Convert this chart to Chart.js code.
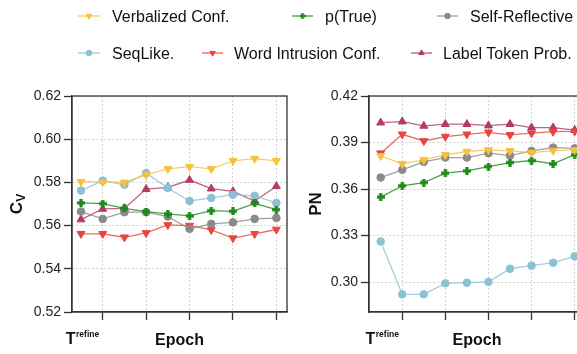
<!DOCTYPE html>
<html><head><meta charset="utf-8">
<script src="https://cdn.jsdelivr.net/npm/chart.js@4.4.1/dist/chart.umd.min.js"></script>
<style>
html,body{margin:0;padding:0;background:#fff;overflow:hidden;width:577px;height:354px;}
#wrap{position:relative;width:577px;height:354px;overflow:hidden;}
canvas.chart{position:absolute;top:0;}
#cvL{left:0;}
#cvR{left:295px;}
.legtxt{position:absolute;font-family:'Liberation Sans',Arial,sans-serif;font-size:16px;line-height:19px;color:#111;white-space:nowrap;}
.legmk{position:absolute;}
</style></head><body>
<div id="wrap">
<canvas id="cvL" class="chart" width="295" height="354"></canvas>
<canvas id="cvR" class="chart" width="298" height="354"></canvas>
<div id="legend"></div>
</div>
<script>
// ---------------- data ----------------
const epochs = [0, 1, 2, 3, 4, 5, 6, 7, 8, 9];
const seriesNames = ['Verbalized Conf.', 'p(True)', 'Self-Reflective', 'SeqLike.', 'Word Intrusion Conf.', 'Label Token Prob.'];

const cvVerbalized     = [0.5803, 0.5802, 0.5800, 0.5835, 0.5863, 0.5873, 0.5863, 0.5900, 0.5910, 0.5900];
const cvPTrue          = [0.5705, 0.5702, 0.5680, 0.5665, 0.5654, 0.5645, 0.5669, 0.5666, 0.5703, 0.5674];
const cvSelfReflective = [0.5665, 0.5631, 0.5662, 0.5662, 0.5642, 0.5585, 0.5608, 0.5615, 0.5631, 0.5635];
const cvSeqLike        = [0.5762, 0.5808, 0.5789, 0.5843, 0.5774, 0.5714, 0.5728, 0.5743, 0.5738, 0.5705];
const cvWordIntrusion  = [0.5562, 0.5562, 0.5546, 0.5566, 0.5603, 0.5600, 0.5580, 0.5542, 0.5562, 0.5582];
const cvLabelToken     = [0.5628, 0.5677, 0.5680, 0.5769, 0.5777, 0.5811, 0.5771, 0.5758, 0.5714, 0.5782];

const pnVerbalized     = [0.3814, 0.3762, 0.3788, 0.3820, 0.3842, 0.3852, 0.3846, 0.3835, 0.3848, 0.3852];
const pnPTrue          = [0.3548, 0.3621, 0.3642, 0.3702, 0.3717, 0.3745, 0.3771, 0.3784, 0.3762, 0.3822];
const pnSelfReflective = [0.3674, 0.3724, 0.3775, 0.3803, 0.3803, 0.3831, 0.3816, 0.3846, 0.3867, 0.3862];
const pnSeqLike        = [0.3262, 0.2921, 0.2921, 0.2992, 0.2996, 0.3001, 0.3086, 0.3106, 0.3125, 0.3166];
const pnWordIntrusion  = [0.3831, 0.3953, 0.3910, 0.3938, 0.3953, 0.3966, 0.3949, 0.3960, 0.3970, 0.3972];
const pnLabelToken     = [0.4028, 0.4035, 0.4007, 0.4018, 0.4018, 0.4009, 0.4018, 0.3996, 0.3996, 0.3980];

const cvTicks = [0.52, 0.54, 0.56, 0.58, 0.60, 0.62];
const pnTicks = [0.30, 0.33, 0.36, 0.39, 0.42];
const xTicks  = [1, 3, 5, 7, 9];

// ---------------- styles ----------------
const FONT = "'Liberation Sans', Arial, Helvetica, sans-serif";
const colors = ['#f5c13f', '#1b8a1b', '#8a8a8a', '#8dc0d3', '#e6463d', '#b23c63'];
function rgba(hex, a) {
  const n = parseInt(hex.slice(1), 16);
  return `rgba(${(n >> 16) & 255},${(n >> 8) & 255},${n & 255},${a})`;
}
function plusMarker(color, size, arm) {
  const c = document.createElement('canvas');
  c.width = size; c.height = size;
  const g = c.getContext('2d');
  g.fillStyle = color;
  const o = (size - arm) / 2;
  g.fillRect(o, 0, arm, size);
  g.fillRect(0, o, size, arm);
  return c;
}
const plusBig = plusMarker(colors[1], 8, 3.2);
const plusSmall = plusMarker(colors[1], 6, 2.4);
const pStyles = ['triangle', plusBig, 'circle', 'circle', 'triangle', 'triangle'];
const pStylesLeg = ['triangle', plusSmall, 'circle', 'circle', 'triangle', 'triangle'];
const pRot = [180, 0, 0, 0, 180, 0];
const pRad = [4.6, 4, 3.8, 3.8, 4.6, 4.6];

function makeDatasets(valueLists) {
  return seriesNames.map((name, i) => ({
    label: name,
    data: epochs.map((e, j) => ({ x: e, y: valueLists[i][j] })),
    borderColor: rgba(colors[i], 0.8),
    backgroundColor: colors[i],
    pointBackgroundColor: colors[i],
    pointBorderColor: colors[i],
    pointStyle: pStyles[i],
    pointRotation: pRot[i],
    pointRadius: pRad[i],
    pointBorderWidth: 1,
    borderWidth: 1.3,
    tension: 0,
    clip: false
  }));
}

const boxPlugin = {
  id: 'box',
  beforeDatasetsDraw(chart) {
    const { ctx, chartArea: a } = chart;
    ctx.save();
    ctx.strokeStyle = '#333';
    ctx.lineWidth = 1.3;
    ctx.strokeRect(a.left, a.top, a.right - a.left, a.bottom - a.top);
    ctx.restore();
  }
};

const trefinePlugin = {
  id: 'trefine',
  afterDraw(chart) {
    const ctx = chart.ctx;
    const x = chart.scales.x.getPixelForValue(0);
    ctx.save();
    ctx.fillStyle = '#111';
    ctx.textBaseline = 'alphabetic';
    ctx.textAlign = 'left';
    ctx.font = `bold 16px ${FONT}`;
    const wT = ctx.measureText('T').width;
    ctx.font = `bold 8.5px ${FONT}`;
    const wR = ctx.measureText('refine').width;
    const x0 = x + 1.5 - (wT + wR + 0.5) / 2;
    ctx.font = `bold 16px ${FONT}`;
    ctx.fillText('T', x0, 344);
    ctx.font = `bold 8.5px ${FONT}`;
    ctx.fillText('refine', x0 + wT + 0.5, 337);
    ctx.restore();
  }
};

const cvTitlePlugin = {
  id: 'cvtitle',
  afterDraw(chart) {
    const ctx = chart.ctx;
    const a = chart.chartArea;
    const cy = (a.top + a.bottom) / 2;
    ctx.save();
    ctx.fillStyle = '#111';
    ctx.translate(22, cy);
    ctx.rotate(-Math.PI / 2);
    ctx.textBaseline = 'alphabetic';
    ctx.textAlign = 'left';
    ctx.font = `bold 17px ${FONT}`;
    const wC = ctx.measureText('C').width;
    ctx.font = `bold 12px ${FONT}`;
    const wV = ctx.measureText('V').width;
    const s = -(wC + wV) / 2;
    ctx.font = `bold 17px ${FONT}`;
    ctx.fillText('C', s, 0);
    ctx.font = `bold 12px ${FONT}`;
    ctx.fillText('V', s + wC, 3);
    ctx.restore();
  }
};

function makeChart(id, valueLists, yMin, yMax, yTicks, xMin, xMax, yWidth, yTitle, extraPlugins) {
  const gridCommon = {
    color: '#d2d2d2', lineWidth: 1,
    tickLength: 8, tickColor: '#333', tickWidth: 1.3, drawTicks: true
  };
  const borderCommon = { display: true, color: '#333', width: 1.3, dash: [2, 2] };
  return new Chart(document.getElementById(id), {
    type: 'line',
    data: { datasets: makeDatasets(valueLists) },
    options: {
      responsive: false, animation: false, devicePixelRatio: 1,
      layout: { padding: { left: 0, top: 96, right: 8, bottom: 0 } },
      plugins: { legend: { display: false }, tooltip: { enabled: false } },
      scales: {
        x: {
          type: 'linear', min: xMin, max: xMax,
          afterFit: s => { s.height = 42; },
          afterBuildTicks: s => { s.ticks = xTicks.map(v => ({ value: v })); },
          ticks: { callback: () => '', font: { family: FONT, size: 14 } },
          grid: gridCommon, border: borderCommon,
          title: { display: true, text: 'Epoch', color: '#111', font: { family: FONT, size: 16, weight: 'bold' }, padding: { top: 0, bottom: 4 } }
        },
        y: {
          type: 'linear', min: yMin, max: yMax,
          afterFit: s => { s.width = yWidth; },
          afterBuildTicks: s => { s.ticks = yTicks.map(v => ({ value: v })); },
          ticks: { callback: v => v.toFixed(2), color: '#222', padding: 3, font: { family: FONT, size: 14 } },
          grid: gridCommon, border: borderCommon,
          title: yTitle ? { display: true, text: yTitle, color: '#111', font: { family: FONT, size: 17, weight: 'bold' }, padding: { top: 11, bottom: 0 } } : { display: false }
        }
      }
    },
    plugins: [boxPlugin, trefinePlugin].concat(extraPlugins)
  });
}

makeChart('cvL',
  [cvVerbalized, cvPTrue, cvSelfReflective, cvSeqLike, cvWordIntrusion, cvLabelToken],
  0.52, 0.62, cvTicks, -0.414, 9.49, 72, null, [cvTitlePlugin]);

makeChart('cvR',
  [pnVerbalized, pnPTrue, pnSelfReflective, pnSeqLike, pnWordIntrusion, pnLabelToken],
  0.2807, 0.42, pnTicks, -0.543, 9.48, 74, 'PN', []);

// ---------------- legend ----------------
const legendPos = [
  { x: 78, y: 16, w: 22, tx: 112, ty: 7 },
  { x: 292, y: 16, w: 21, tx: 325, ty: 7 },
  { x: 437, y: 16, w: 21, tx: 470, ty: 7 },
  { x: 78, y: 52.5, w: 22, tx: 112, ty: 43.5 },
  { x: 202, y: 52.5, w: 21, tx: 234, ty: 43.5 },
  { x: 411, y: 52.5, w: 21, tx: 443, ty: 43.5 }
];
const legRad = [3.2, 3, 2.8, 2.8, 3.2, 3.2];
const legend = document.getElementById('legend');
seriesNames.forEach((name, i) => {
  const p = legendPos[i];
  const c = document.createElement('canvas');
  c.className = 'legmk';
  c.width = p.w + 4; c.height = 14;
  c.style.left = (p.x - 2) + 'px';
  c.style.top = (p.y - 7) + 'px';
  const g = c.getContext('2d');
  g.strokeStyle = rgba(colors[i], 0.55);
  g.lineWidth = 2;
  g.beginPath(); g.moveTo(2, 7); g.lineTo(p.w + 2, 7); g.stroke();
  g.fillStyle = colors[i]; g.strokeStyle = colors[i]; g.lineWidth = 1;
  if (Chart.helpers && Chart.helpers.drawPoint) {
    Chart.helpers.drawPoint(g, { pointStyle: pStylesLeg[i], radius: legRad[i], rotation: pRot[i], borderWidth: 1 }, 2 + p.w / 2, 7);
  }
  legend.appendChild(c);
  const t = document.createElement('div');
  t.className = 'legtxt';
  t.style.left = p.tx + 'px';
  t.style.top = p.ty + 'px';
  t.textContent = name;
  legend.appendChild(t);
});
</script>
</body></html>
